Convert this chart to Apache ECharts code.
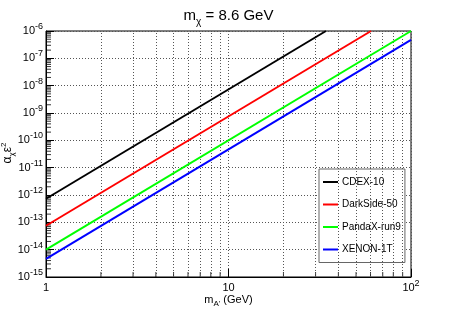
<!DOCTYPE html>
<html>
<head>
<meta charset="utf-8">
<script src="https://cdn.jsdelivr.net/npm/echarts@6/dist/echarts.min.js"></script>
<style>html,body{margin:0;padding:0;background:#fff;}#c{width:457px;height:309px;}</style>
</head>
<body>
<div id="c"></div>
<script>
// ---- data ----
const seriesNames = ['CDEX-10', 'DarkSide-50', 'PandaX-run9', 'XENON-1T'];
const seriesColors = ['#000000', '#ff0000', '#00ff00', '#0000ff'];
const cdex10 = [[1, 7.3e-13], [34.2, 1e-6]];
const darkside50 = [[1, 7.5e-14], [60.4, 1e-6]];
const pandaxRun9 = [[1, 1.0e-14], [100, 1e-6]];
const xenon1t = [[1, 4.6e-15], [100, 4.7e-7]];
const xMin = 1, xMax = 100;
const yMin = 1e-15, yMax = 1e-6;
const xMinorTicks = [2, 3, 4, 5, 6, 7, 8, 9, 20, 30, 40, 50, 60, 70, 80, 90];
const yDecadeExponents = [-15, -14, -13, -12, -11, -10, -9, -8, -7];
const yMinorMultipliers = [2, 3, 4, 5, 6, 7, 8, 9];

const FONT = 'Liberation Sans, Arial, Helvetica, sans-serif';
const allData = [cdex10, darkside50, pandaxRun9, xenon1t];

const yMinorTicks = [];
yDecadeExponents.forEach(e => yMinorMultipliers.forEach(m => yMinorTicks.push(m * Math.pow(10, e))));

const labelRich = {
  b: { fontSize: 11, fontFamily: FONT, color: '#000', lineHeight: 18, verticalAlign: 'middle' },
  s: { fontSize: 9, fontFamily: FONT, color: '#000', lineHeight: 10, verticalAlign: 'top' }
};

const lineSeries = seriesNames.map((n, i) => ({
  name: n,
  type: 'line',
  data: allData[i],
  symbol: 'none',
  showSymbol: false,
  lineStyle: { color: seriesColors[i], width: 2 },
  itemStyle: { color: seriesColors[i] },
  clip: true,
  silent: true,
  z: 5
}));

const option = {
  animation: false,
  backgroundColor: '#fff',
  title: {
    text: '{m|m}{s|χ}{m| = 8.6 GeV}',
    left: 'center',
    top: 0,
    textStyle: {
      fontWeight: 'normal',
      rich: {
        m: { fontSize: 15, fontFamily: FONT, fontWeight: 'normal', color: '#000', lineHeight: 22, verticalAlign: 'middle' },
        s: { fontSize: 10, fontFamily: FONT, fontWeight: 'normal', color: '#000', lineHeight: 11, verticalAlign: 'bottom' }
      }
    }
  },
  graphic: [
    {
      type: 'text',
      left: 'center',
      top: 294,
      style: {
        text: '{nb|m}{nsub|A\'}{nb| (GeV)}',
        rich: {
          nb: { fontSize: 11, fontFamily: FONT, fill: '#000', lineHeight: 16, verticalAlign: 'middle' },
          nsub: { fontSize: 8, fontFamily: FONT, fill: '#000', lineHeight: 8, verticalAlign: 'bottom' }
        }
      }
    },
    {
      type: 'text',
      x: 8,
      y: 153,
      rotation: Math.PI / 2,
      style: {
        text: '{yb|α}{ysub|χ}{yb|ε}{ysup|2}',
        align: 'center',
        verticalAlign: 'middle',
        rich: {
          yb: { fontSize: 12, fontFamily: FONT, fill: '#000', lineHeight: 16, verticalAlign: 'middle' },
          ysub: { fontSize: 8, fontFamily: FONT, fill: '#000', lineHeight: 8, verticalAlign: 'bottom' },
          ysup: { fontSize: 8, fontFamily: FONT, fill: '#000', lineHeight: 8, verticalAlign: 'top' }
        }
      }
    }
  ],
  grid: {
    left: 46, right: 46, top: 31, bottom: 32,
    outerBoundsMode: 'none',
    containLabel: false,
    show: true, borderColor: '#000', borderWidth: 1, backgroundColor: 'transparent'
  },
  legend: {
    data: seriesNames,
    orient: 'vertical',
    left: 319,
    top: 169,
    padding: [8, 4, 8, 4],
    itemGap: 12.5,
    itemWidth: 15,
    itemHeight: 12,
    icon: 'path://M0,0L15,0L15,2L0,2Z',
    backgroundColor: '#fff',
    borderColor: '#666',
    borderWidth: 1,
    textStyle: { fontSize: 10, fontFamily: FONT, color: '#000', padding: [0, 0, 0, -1] }
  },
  xAxis: {
    type: 'log',
    logBase: 10,
    min: xMin,
    max: xMax,
    axisLine: { show: true, lineStyle: { color: '#000', width: 1 } },
    axisTick: { show: true, inside: true, length: 8, lineStyle: { color: '#000' } },
    minorTick: { show: false },
    splitLine: { show: true, lineStyle: { color: '#555', type: [1, 2], width: 1 } },
    axisLabel: {
      margin: 2,
      formatter: function (v) {
        const e = Math.round(Math.log10(v));
        if (e === 0) return '{b|1}';
        if (e === 1) return '{b|10}';
        return '{b|10}{s|' + e + '}';
      },
      rich: labelRich
    }
  },
  yAxis: {
    type: 'log',
    logBase: 10,
    min: yMin,
    max: yMax,
    axisLine: { show: true, lineStyle: { color: '#000', width: 1 } },
    axisTick: { show: true, inside: true, length: 8, lineStyle: { color: '#000' } },
    minorTick: { show: false },
    splitLine: { show: true, lineStyle: { color: '#555', type: [1, 2], width: 1 } },
    axisLabel: {
      margin: 3,
      formatter: function (v) {
        const e = Math.round(Math.log10(v));
        return '{b|10}{s|' + e + '}';
      },
      rich: labelRich
    }
  },
  series: lineSeries.concat([
    {
      name: 'xMinorGrid',
      type: 'line',
      data: [],
      silent: true,
      markLine: {
        silent: true,
        symbol: 'none',
        label: { show: false },
        lineStyle: { color: '#555', type: [1, 2], width: 1 },
        data: xMinorTicks.map(v => ({ xAxis: v }))
      }
    },
    {
      name: 'xMinorTicks',
      type: 'scatter',
      data: xMinorTicks.map(v => [v, yMin]),
      symbol: 'rect',
      symbolSize: [1, 5],
      symbolOffset: [0, -2.5],
      itemStyle: { color: '#000' },
      clip: false,
      silent: true
    },
    {
      name: 'yMinorTicks',
      type: 'scatter',
      data: yMinorTicks.map(v => [xMin, v]),
      symbol: 'rect',
      symbolSize: [5, 1],
      symbolOffset: [2.5, 0],
      itemStyle: { color: '#000' },
      clip: false,
      silent: true
    }
  ])
};

const chart = echarts.init(document.getElementById('c'), null, { renderer: 'canvas' });
chart.setOption(option);
</script>
</body>
</html>
